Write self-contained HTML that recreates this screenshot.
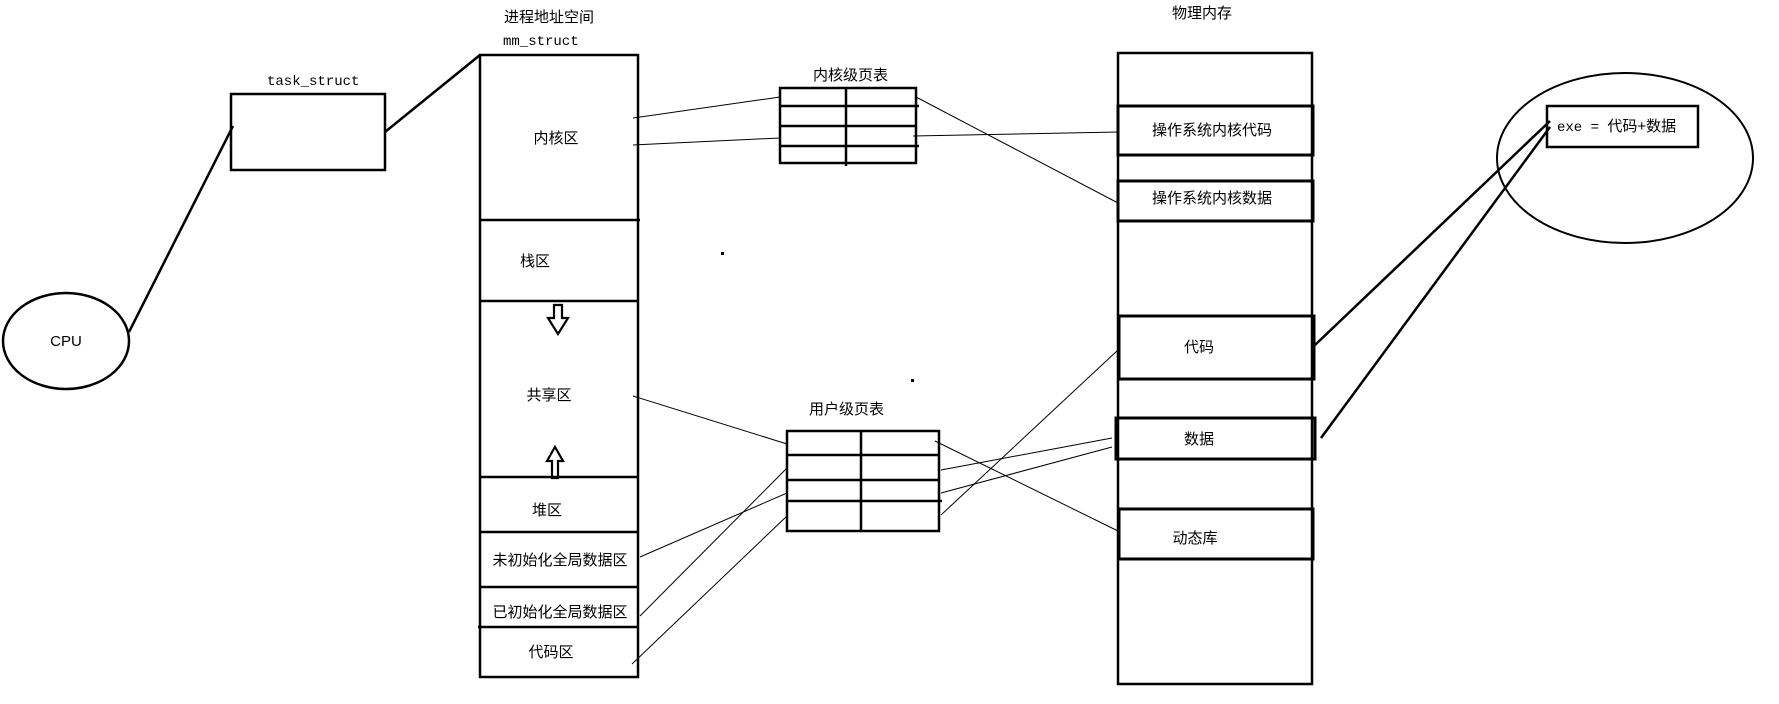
<!DOCTYPE html>
<html><head><meta charset="utf-8"><style>
html,body{margin:0;padding:0;background:#fff;}
svg{display:block;}
text{font-family:"Liberation Sans","Noto Sans CJK SC",sans-serif;font-size:15px;fill:#000;}
.m{font-family:"Liberation Mono","Noto Sans CJK SC",monospace;font-size:14px;}
</style></head><body>
<svg width="1779" height="704" viewBox="0 0 1779 704" xmlns="http://www.w3.org/2000/svg">
<g fill="none" stroke="#000">
<!-- CPU -->
<ellipse cx="66" cy="341" rx="63" ry="48" stroke-width="2.5"/>
<line x1="129" y1="332" x2="233" y2="126" stroke-width="2.5"/>
<rect x="231" y="94" width="154" height="76" stroke-width="2.5"/>
<line x1="385" y1="132" x2="480" y2="55" stroke-width="2.5"/>
<!-- mm box -->
<rect x="480" y="55" width="158" height="622" stroke-width="2.5"/>
<g stroke-width="2.5">
<line x1="480" y1="220" x2="640" y2="220"/>
<line x1="480" y1="301" x2="638" y2="301"/>
<line x1="480" y1="477" x2="638" y2="477"/>
<line x1="480" y1="532" x2="638" y2="532"/>
<line x1="480" y1="587" x2="638" y2="587"/>
<line x1="478" y1="627" x2="638" y2="627"/>
</g>
<!-- arrows -->
<path d="M554,305 h8 v13 h6 l-10,16 l-10,-16 h6 z" stroke-width="2.2"/>
<path d="M552,478 v-17 h-5 l8,-14 l8,14 h-5 v17 z" stroke-width="2.2"/>
<!-- kernel page table -->
<rect x="780" y="88" width="136" height="75" stroke-width="2.5"/>
<line x1="780" y1="106" x2="919" y2="106" stroke-width="2.5"/>
<line x1="780" y1="126" x2="916" y2="126" stroke-width="2.5"/>
<line x1="780" y1="146" x2="919" y2="146" stroke-width="2.5"/>
<line x1="846" y1="88" x2="846" y2="166" stroke-width="2.5"/>
<!-- user page table -->
<rect x="787" y="431" width="152" height="100" stroke-width="2.5"/>
<line x1="787" y1="455" x2="939" y2="455" stroke-width="2.5"/>
<line x1="787" y1="480" x2="939" y2="480" stroke-width="2.5"/>
<line x1="787" y1="501" x2="942" y2="501" stroke-width="2.5"/>
<line x1="861" y1="431" x2="861" y2="531" stroke-width="2.5"/>
<!-- thin connectors -->
<g stroke-width="1">
<line x1="633" y1="118" x2="780" y2="97"/>
<line x1="633" y1="145" x2="780" y2="138"/>
<line x1="633" y1="396" x2="787" y2="444"/>
<line x1="640" y1="557" x2="787" y2="493"/>
<line x1="640" y1="616" x2="787" y2="468"/>
<line x1="632" y1="664" x2="787" y2="516"/>
<line x1="916" y1="97" x2="1118" y2="203"/>
<line x1="913" y1="136" x2="1118" y2="132"/>
<line x1="935" y1="441" x2="1118" y2="531"/>
<line x1="941" y1="470" x2="1112" y2="438"/>
<line x1="941" y1="493" x2="1112" y2="447"/>
<line x1="941" y1="515" x2="1118" y2="350"/>
</g>
<!-- physical memory -->
<rect x="1118" y="53" width="194" height="631" stroke-width="2.5"/>
<rect x="1118" y="106" width="195" height="49" stroke-width="3"/>
<rect x="1118" y="181" width="195" height="40" stroke-width="3"/>
<rect x="1119" y="316" width="195" height="63" stroke-width="3"/>
<rect x="1116" y="418" width="199" height="41" stroke-width="3"/>
<rect x="1119" y="509" width="194" height="50" stroke-width="3"/>
<!-- exe -->
<ellipse cx="1625" cy="158" rx="128" ry="85" stroke-width="2"/>
<rect x="1547" y="106" width="151" height="41" stroke-width="2.5"/>
<line x1="1315" y1="345" x2="1550" y2="121" stroke-width="2.5"/>
<line x1="1321" y1="438" x2="1550" y2="127" stroke-width="2.5"/>
</g>
<rect x="721" y="252" width="3" height="3" fill="#000"/>
<rect x="911" y="379" width="3" height="3" fill="#000"/>
<text x="66" y="346" text-anchor="middle" font-size="13">CPU</text>
<text class="m" x="267" y="85">task_struct</text>
<text x="504" y="22">进程地址空间</text>
<text class="m" x="503" y="45">mm_struct</text>
<text x="556" y="143" text-anchor="middle">内核区</text>
<text x="535" y="266" text-anchor="middle">栈区</text>
<text x="549" y="400" text-anchor="middle">共享区</text>
<text x="547" y="515" text-anchor="middle">堆区</text>
<text x="560" y="565" text-anchor="middle">未初始化全局数据区</text>
<text x="560" y="617" text-anchor="middle">已初始化全局数据区</text>
<text x="551" y="657" text-anchor="middle">代码区</text>
<text x="813" y="80">内核级页表</text>
<text x="809" y="414">用户级页表</text>
<text x="1172" y="18">物理内存</text>
<text x="1212" y="135" text-anchor="middle">操作系统内核代码</text>
<text x="1212" y="203" text-anchor="middle">操作系统内核数据</text>
<text x="1199" y="352" text-anchor="middle">代码</text>
<text x="1199" y="444" text-anchor="middle">数据</text>
<text x="1195" y="543" text-anchor="middle">动态库</text>
<text class="m" x="1557" y="131">exe = <tspan font-family="Liberation Sans, Noto Sans CJK SC, sans-serif" font-size="15">代码+数据</tspan></text>
</svg>
</body></html>
